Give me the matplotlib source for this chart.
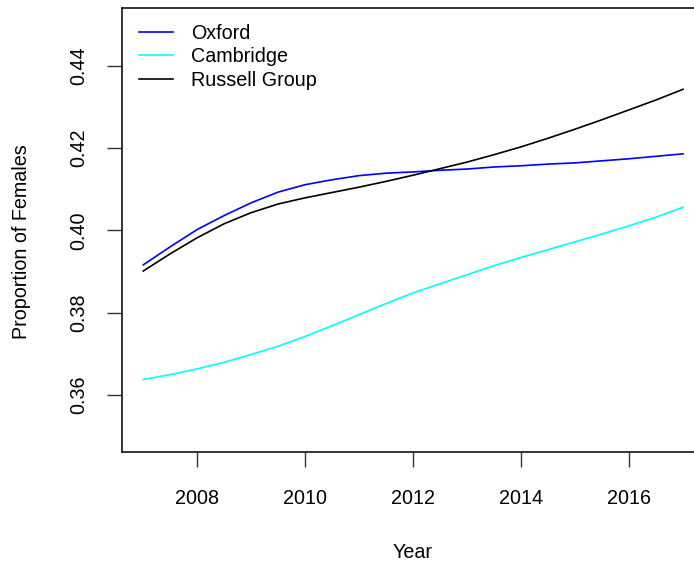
import matplotlib
matplotlib.use("Agg")
import matplotlib.pyplot as plt

# values, half-year steps
years = [2007.0, 2007.5, 2008.0, 2008.5, 2009.0, 2009.5, 2010.0, 2010.5, 2011.0,
         2011.5, 2012.0, 2012.5, 2013.0, 2013.5, 2014.0, 2014.5, 2015.0, 2015.5,
         2016.0, 2016.5, 2017.0]
oxford = [0.3916, 0.3960, 0.4002, 0.4036, 0.4067, 0.4093, 0.4111, 0.4123, 0.4133,
          0.4139, 0.4142, 0.4146, 0.4149, 0.4154, 0.4157, 0.4161, 0.4164, 0.4169,
          0.4174, 0.4180, 0.4186]
cambridge = [0.3637, 0.3649, 0.3663, 0.3679, 0.3698, 0.3718, 0.3742, 0.3768, 0.3795,
             0.3822, 0.3848, 0.3870, 0.3892, 0.3914, 0.3934, 0.3953, 0.3972, 0.3991,
             0.4011, 0.4032, 0.4056]
russell = [0.3901, 0.3943, 0.3982, 0.4016, 0.4043, 0.4064, 0.4079, 0.4092, 0.4105,
           0.4119, 0.4134, 0.4150, 0.4166, 0.4184, 0.4203, 0.4224, 0.4246, 0.4269,
           0.4293, 0.4317, 0.4343]

xticks = [2008, 2010, 2012, 2014, 2016]
yticks = [0.36, 0.38, 0.40, 0.42, 0.44]

plt.rcParams['font.family'] = ['Liberation Sans', 'DejaVu Sans']
plt.rcParams['lines.solid_joinstyle'] = 'round'
fs = 14.2

W, H = 694, 565
fig = plt.figure(figsize=(W / 100, H / 100), dpi=100)
# plot box runs past the right edge, as in the reference
left, right, top, bottom = 121.7, 704.6, 8.3, 452.3
ax = fig.add_axes([left / W, 1 - bottom / H, (right - left) / W, (bottom - top) / H])

ax.plot(years, oxford, color='blue', lw=1.2, label='Oxford')
ax.plot(years, cambridge, color='cyan', lw=1.2, label='Cambridge')
ax.plot(years, russell, color='black', lw=1.2, label='Russell Group')

ax.set_xlim(2006.6, 2017.4)
ax.set_ylim(0.346, 0.454)
ax.set_xticks(xticks)
ax.set_xticklabels([str(t) for t in xticks])
ax.set_yticks(yticks)
ax.set_yticklabels(['%.2f' % t for t in yticks], rotation=90, va='center')

ax.tick_params(direction='out', length=10.8, width=1.0, labelsize=fs, color='#333333')
ax.tick_params(axis='x', pad=15.3)
ax.tick_params(axis='y', pad=13.6)
for s in ax.spines.values():
    s.set_linewidth(1.1)

fig.text(22 / W, 1 - 242 / H, 'Proportion of Females', rotation=90, fontsize=fs,
         ha='center', va='center')
fig.text(413 / W, 1 - 553 / H, 'Year', fontsize=fs, ha='center', va='center')

ax.legend(loc='upper left', bbox_to_anchor=(139.3 / W, 1 - 24 / H),
          bbox_transform=fig.transFigure, frameon=False, fontsize=fs,
          handlelength=1.73, handletextpad=0.89, labelspacing=0.22,
          borderpad=0, borderaxespad=0)

fig.savefig('out.png', dpi=100)
